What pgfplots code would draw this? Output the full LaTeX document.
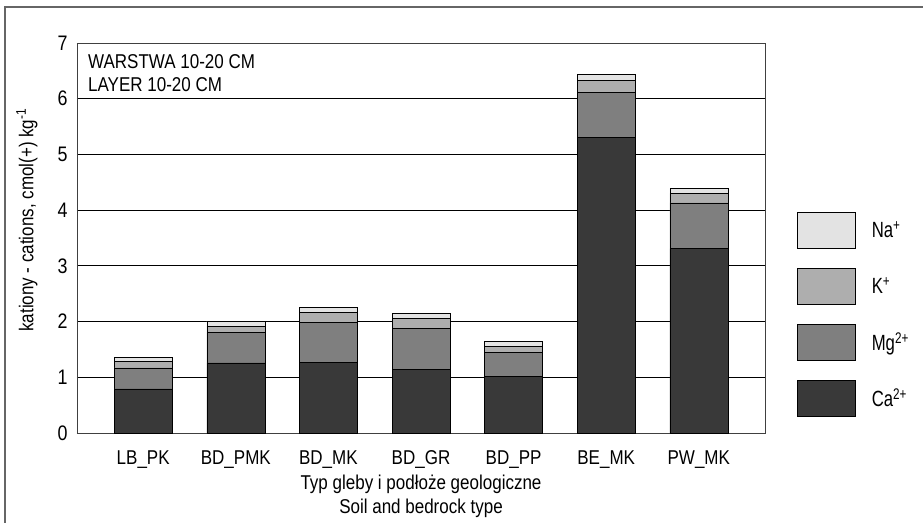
\documentclass[border=0pt]{standalone}
\usepackage{fontspec}
\setmainfont{Liberation Sans}[FakeStretch=0.85]
\newfontfamily\legfont{Liberation Sans}[FakeStretch=0.76]
\usepackage{pgfplots}
\pgfplotsset{compat=1.18}
\definecolor{caC}{HTML}{393939}
\definecolor{mgC}{HTML}{7F7F7F}
\definecolor{kC}{HTML}{AEAEAE}
\definecolor{naC}{HTML}{E3E3E3}
\newcommand{\fs}{\fontsize{20}{23}\selectfont}
\begin{document}
\begin{tikzpicture}[x=1pt,y=1pt]
\useasboundingbox (0,0) rectangle (923,522);
% outer frame (only top and left edges are inside the picture)
\draw[color=black!60, line width=1.5pt] (5,-20) -- (5,515) -- (940,515);
\begin{axis}[
    at={(77pt,89pt)}, anchor=south west,
    width=688pt, height=390pt, scale only axis,
    ybar stacked, bar width=58pt,
    xmin=-0.715, xmax=6.715,
    ymin=0, ymax=7,
    xtick=data,
    xticklabels={LB\_PK,BD\_PMK,BD\_MK,BD\_GR,BD\_PP,BE\_MK,PW\_MK},
    ytick={0,1,2,3,4,5,6,7},
    ymajorgrids,
    grid style={black, line width=0.8pt},
    axis line style={draw=black!75, line width=0.8pt},
    tick style={draw=none},
    tick label style={font=\fontsize{21}{23}\selectfont},
    yticklabel style={xshift=-6pt},
    xticklabel style={anchor=north, yshift=-14pt, font=\fs},
    /pgf/number format/assume math mode=true,
    ylabel={kationy - cations, cmol(+) kg\textsuperscript{-1}},
    ylabel style={font=\fs, at={(axis description cs:-0.0727,0.546)}, anchor=center},
    xlabel={Typ gleby i podłoże geologiczne\\Soil and bedrock type},
    xlabel style={font=\fontsize{20}{24}\selectfont, align=center, at={(axis description cs:0.5,-0.162)}, anchor=center},
    legend style={at={(axis description cs:1.0465,0.5667)}, anchor=north west,
        draw=none, fill=none, inner sep=0pt, row sep=19.3pt,
        font=\legfont\fontsize{22}{24}\selectfont,
        nodes={inner sep=0pt},
        /tikz/every odd column/.append style={column sep=16pt}},
    legend cell align=left,
    reverse legend,
    legend image code/.code={\draw[#1] (0pt,-18pt) rectangle (58pt,18pt);},
    every axis plot/.append style={draw=black, line width=0.6pt},
]
\addplot[fill=caC] coordinates {(0,0.79) (1,1.26) (2,1.27) (3,1.14) (4,1.01) (5,5.31) (6,3.31)};
\addplot[fill=mgC] coordinates {(0,0.38) (1,0.54) (2,0.71) (3,0.74) (4,0.43) (5,0.81) (6,0.82)};
\addplot[fill=kC]  coordinates {(0,0.12) (1,0.12) (2,0.19) (3,0.18) (4,0.12) (5,0.21) (6,0.17)};
\addplot[fill=naC] coordinates {(0,0.07) (1,0.09) (2,0.09) (3,0.08) (4,0.09) (5,0.10) (6,0.09)};
\legend{Ca\textsuperscript{2+},Mg\textsuperscript{2+},K\textsuperscript{+},Na\textsuperscript{+}}
\node[anchor=north west, align=left, font=\fs, inner sep=0pt]
    at (rel axis cs:0,1) [xshift=11pt, yshift=-11pt] {WARSTWA 10-20 CM\\LAYER 10-20 CM};
\end{axis}
\end{tikzpicture}
\end{document}
